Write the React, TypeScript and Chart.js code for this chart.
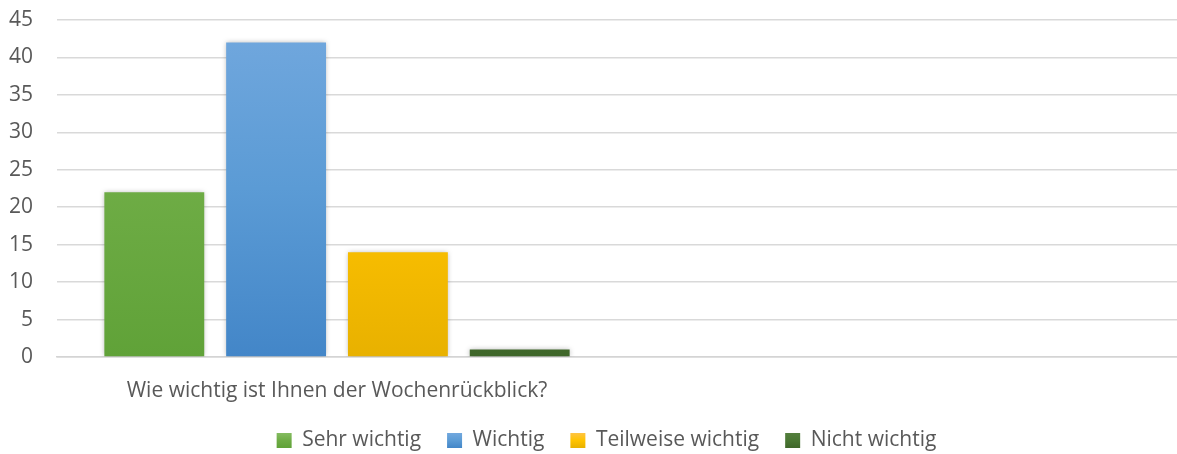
import React, { useEffect, useRef } from "react";
import { Chart, registerables } from "chart.js";

Chart.register(...registerables);

const categories = ["Wie wichtig ist Ihnen der Wochenrückblick?", ""];
const seriesNames = ["Sehr wichtig", "Wichtig", "Teilweise wichtig", "Nicht wichtig"];
const sehrWichtig = [22, null];
const wichtig = [42, null];
const teilweiseWichtig = [14, null];
const nichtWichtig = [1, null];
const yTicks = [0, 5, 10, 15, 20, 25, 30, 35, 40, 45];

const gradientStops: [string, string, string][] = [
  ["#85bc61", "#6eac45", "#60a238"],
  ["#72a8de", "#5b9bd5", "#4386c8"],
  ["#ffc444", "#ffc300", "#e8b100"],
  ["#557f3e", "#4a7733", "#3f672a"],
];

const FONT = "'Open Sans', 'Noto Sans', sans-serif";
const FS = 21;

export default function App() {
  const ref = useRef<HTMLCanvasElement | null>(null);
  useEffect(() => {
    if (!ref.current) return;
    const grad = (c: CanvasRenderingContext2D, top: number, bottom: number, i: number) => {
      const g = c.createLinearGradient(0, top, 0, bottom);
      g.addColorStop(0, gradientStops[i][0]);
      g.addColorStop(0.5, gradientStops[i][1]);
      g.addColorStop(1, gradientStops[i][2]);
      return g;
    };
    const makeBg = (i: number) => (ctx: any) => {
      const chart = ctx.chart;
      const area = chart.chartArea;
      if (!area) return gradientStops[i][1];
      const el = ctx.element;
      const top = el && isFinite(el.y) ? el.y : area.top;
      const bottom = el && isFinite(el.base) ? el.base : area.bottom;
      if (bottom - top < 1) return gradientStops[i][1];
      return grad(chart.ctx, top, bottom, i);
    };
    const shadowPlugin = {
      id: "barShadow",
      beforeDatasetsDraw(chart: any) {
        const c = chart.ctx;
        c.save();
        c.shadowColor = "rgba(0,0,0,0.28)";
        c.shadowBlur = 5;
        c.shadowOffsetX = 0;
        c.shadowOffsetY = 0;
      },
      afterDatasetsDraw(chart: any) {
        chart.ctx.restore();
      },
    };
    const legendShift = {
      id: "legendShift",
      afterLayout(chart: any) {
        if (chart.legend) chart.legend.left += 36;
      },
    };
    const values = [sehrWichtig, wichtig, teilweiseWichtig, nichtWichtig];
    const chart = new Chart(ref.current, {
      type: "bar",
      data: {
        labels: categories,
        datasets: seriesNames.map((name, i) => ({
          label: name,
          data: values[i],
          backgroundColor: makeBg(i),
          borderWidth: 0,
          categoryPercentage: 0.87,
          barPercentage: 0.82,
        })),
      },
      options: {
        animation: false,
        responsive: false,
        maintainAspectRatio: false,
        layout: { padding: { left: 0, right: 0, top: 0, bottom: -7 } },
        plugins: {
          tooltip: { enabled: false },
          legend: {
            position: "bottom",
            labels: {
              color: "#595959",
              font: { family: FONT, size: FS },
              boxWidth: 15,
              boxHeight: 15,
              padding: 26,
              generateLabels: (ch: any) =>
                seriesNames.map((n, i) => ({
                  text: n,
                  fillStyle: grad(ch.ctx, 433, 448, i),
                  strokeStyle: "rgba(0,0,0,0)",
                  lineWidth: 0,
                  fontColor: "#595959",
                  datasetIndex: i,
                })),
            },
          },
        },
        scales: {
          x: {
            grid: { display: false, drawTicks: false },
            border: { display: true, color: "#d4d4d4", width: 1.5 },
            afterFit: (axis: any) => {
              axis.height = 47;
            },
            ticks: {
              color: "#595959",
              font: { family: FONT, size: FS },
              padding: 21,
              maxRotation: 0,
              autoSkip: false,
            },
          },
          y: {
            min: 0,
            max: 45,
            afterBuildTicks: (axis: any) => {
              axis.ticks = yTicks.map((v) => ({ value: v }));
            },
            afterFit: (axis: any) => {
              axis.width = 57;
              axis.paddingTop = 20;
              axis.paddingBottom = 0;
            },
            grid: { color: "#d9d9d9", lineWidth: 1.5, drawTicks: false },
            border: { display: false },
            ticks: {
              color: "#595959",
              font: { family: FONT, size: FS },
              padding: 24,
            },
          },
        },
      },
      plugins: [shadowPlugin, legendShift],
    });
    return () => chart.destroy();
  }, []);
  return (
    <div style={{ position: "absolute", left: 0, top: 0, width: 1177, height: 454, background: "#fff" }}>
      <canvas ref={ref} width={1177} height={454} style={{ width: 1177, height: 454 }} />
    </div>
  );
}
